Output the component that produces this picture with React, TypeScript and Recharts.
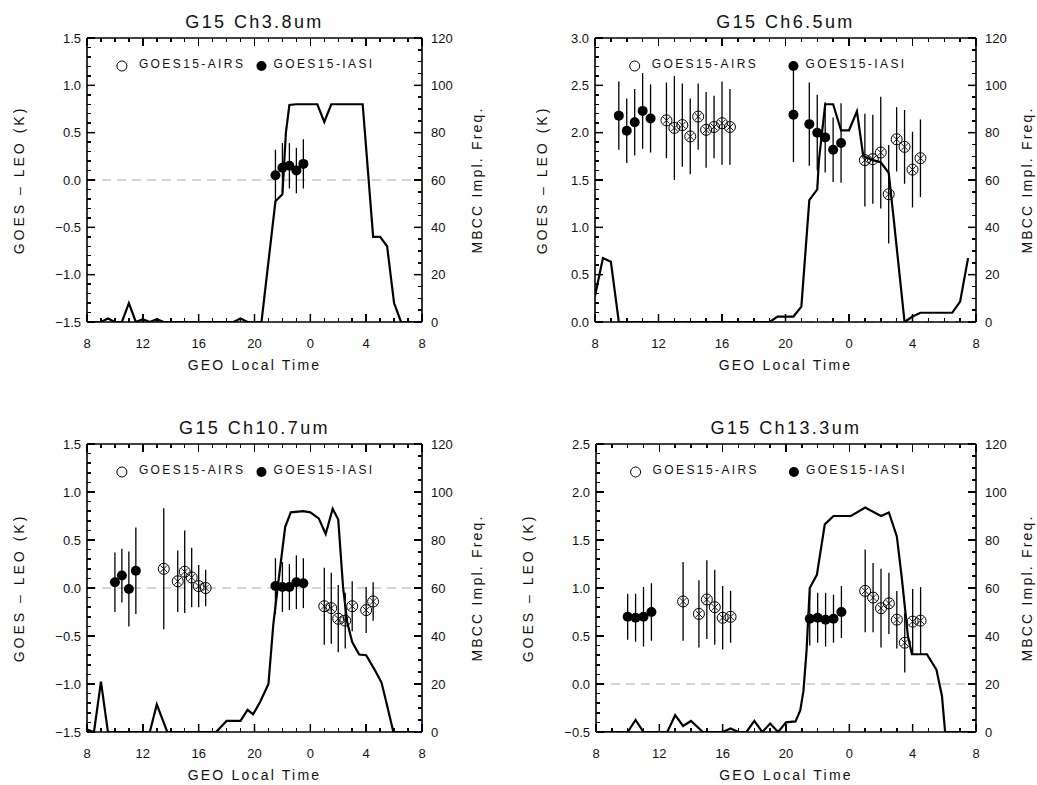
import React from 'react';
import { ComposedChart, Line, Scatter, ErrorBar, XAxis, YAxis, ReferenceLine } from 'recharts';

// x axis: GEO local time, 8 .. 32 (shown modulo 24)
const hourTicks = [8, 12, 16, 20, 24, 28, 32];
const hourLabels = ['8', '12', '16', '20', '0', '4', '8'];
const freqTicks = [0, 20, 40, 60, 80, 100, 120];

// ---- G15 Ch3.8um ----
const ch38FreqHour = [8, 9, 9.5, 10, 10.5, 11, 11.5, 12, 12.5, 13, 13.5, 18.5, 19, 19.5, 20.5, 21.5, 22, 22.25, 22.5, 23, 24.5, 25, 25.5, 27.75, 28.5, 29, 29.5, 30, 30.5, 31.5];
const ch38Freq = [0, 0, 1.5, 0, 0, 8, 0, 1.2, 0, 1.2, 0, 0, 1.5, 0, 0, 51, 54, 80, 91.7, 92, 92, 84.5, 92, 92, 36, 36, 32, 8, 0, 0];
const ch38IasiHour = [21.5, 22, 22.5, 23, 23.5];
const ch38IasiDiff = [0.05, 0.13, 0.15, 0.1, 0.17];
const ch38IasiErr = [0.27, 0.26, 0.24, 0.24, 0.26];

// ---- G15 Ch6.5um ----
const ch65FreqHour = [8, 8.5, 9, 9.5, 19, 19.5, 20.5, 21, 21.5, 22, 22.1, 22.5, 23, 23.5, 24, 24.5, 24.9, 25.5, 26, 26.5, 26.8, 27.5, 28, 28.5, 30.5, 31, 31.5];
const ch65Freq = [11, 27, 25.5, 0, 0, 2.3, 2.3, 6.5, 51.5, 56, 68, 92, 92, 81, 81, 89, 70, 68.4, 67.5, 63, 44.5, 0, 2.3, 3.9, 3.9, 8.6, 27];
const ch65IasiHour = [9.5, 10, 10.5, 11, 11.5, 20.5, 21.5, 22, 22.5, 23, 23.5];
const ch65IasiDiff = [2.18, 2.02, 2.11, 2.23, 2.15, 2.19, 2.09, 2.0, 1.95, 1.82, 1.89];
const ch65IasiErr = [0.36, 0.34, 0.35, 0.4, 0.36, 0.5, 0.44, 0.4, 0.37, 0.34, 0.42];
const ch65AirsHour = [12.5, 13, 13.5, 14, 14.5, 15, 15.5, 16, 16.5, 25, 25.5, 26, 26.5, 27, 27.5, 28, 28.5];
const ch65AirsDiff = [2.13, 2.05, 2.08, 1.96, 2.17, 2.03, 2.06, 2.1, 2.06, 1.71, 1.72, 1.79, 1.35, 1.93, 1.85, 1.61, 1.73];
const ch65AirsErr = [0.4, 0.55, 0.44, 0.4, 0.35, 0.4, 0.33, 0.44, 0.4, 0.49, 0.47, 0.59, 0.52, 0.34, 0.39, 0.4, 0.41];

// ---- G15 Ch10.7um ----
const ch107FreqHour = [8, 8.5, 9, 9.5, 12.5, 13, 13.75, 17.25, 18, 19, 19.5, 19.9, 20.4, 21, 21.35, 21.7, 22.2, 22.6, 23.5, 24, 24.6, 25.1, 25.6, 26, 26.35, 26.65, 27, 27.5, 28, 28.6, 29.1, 29.5, 29.95, 31.5];
const ch107Freq = [1, 0, 21, 0, 0, 11.5, 0, 0, 4.6, 4.6, 9.2, 7.4, 12.5, 20, 45, 62, 85.5, 91.5, 92, 91.5, 89, 82.5, 93, 88.5, 60, 45.5, 37.5, 32.3, 32, 26, 20.6, 11, 0, 0];
const ch107IasiHour = [10, 10.5, 11, 11.5, 21.5, 22, 22.5, 23, 23.5];
const ch107IasiDiff = [0.06, 0.13, -0.01, 0.18, 0.02, 0.01, 0.01, 0.06, 0.05];
const ch107IasiErr = [0.31, 0.28, 0.39, 0.45, 0.29, 0.26, 0.24, 0.28, 0.26];
const ch107AirsHour = [13.5, 14.5, 15, 15.5, 16, 16.5, 25, 25.5, 26, 26.5, 27, 28, 28.5];
const ch107AirsDiff = [0.2, 0.07, 0.17, 0.11, 0.02, 0.0, -0.19, -0.21, -0.32, -0.34, -0.19, -0.23, -0.14];
const ch107AirsErr = [0.63, 0.32, 0.43, 0.31, 0.22, 0.19, 0.4, 0.37, 0.35, 0.29, 0.26, 0.24, 0.2];

// ---- G15 Ch13.3um ----
const ch133FreqHour = [8, 10, 10.5, 11, 12.5, 13, 13.5, 14, 14.75, 16, 16.5, 17, 17.5, 18, 18.5, 19, 19.5, 20, 20.6, 20.9, 21.1, 21.3, 21.5, 21.95, 22.45, 23, 24.1, 25, 26, 26.5, 27, 27.3, 27.7, 27.95, 28.9, 29.5, 29.85, 30.05, 31.5];
const ch133Freq = [0, 0, 5, 0, 0, 7, 2.5, 4.6, 0, 0, 1.5, 0, 0, 4.6, 0, 3.5, 0, 4, 4.4, 9, 17, 34, 60, 65.5, 86.5, 90, 90, 93.5, 90, 91.5, 81.5, 65, 40, 32.4, 32.4, 26, 15, 0, 0];
const ch133IasiHour = [10, 10.5, 11, 11.5, 21.5, 22, 22.5, 23, 23.5];
const ch133IasiDiff = [0.7, 0.69, 0.7, 0.75, 0.68, 0.69, 0.67, 0.68, 0.75];
const ch133IasiErr = [0.24, 0.25, 0.31, 0.3, 0.28, 0.26, 0.28, 0.25, 0.27];
const ch133AirsHour = [13.5, 14.5, 15, 15.5, 16, 16.5, 25, 25.5, 26, 26.5, 27, 27.5, 28, 28.5];
const ch133AirsDiff = [0.86, 0.73, 0.88, 0.8, 0.69, 0.7, 0.97, 0.9, 0.79, 0.84, 0.67, 0.43, 0.65, 0.66];
const ch133AirsErr = [0.41, 0.35, 0.41, 0.39, 0.33, 0.27, 0.43, 0.36, 0.41, 0.32, 0.3, 0.31, 0.34, 0.35];

const ticks38 = [-1.5, -1, -0.5, 0, 0.5, 1, 1.5];
const ticks65 = [0, 0.5, 1, 1.5, 2, 2.5, 3];
const ticks133 = [-0.5, 0, 0.5, 1, 1.5, 2, 2.5];

const FONT = '"Liberation Sans", Arial, sans-serif';
const INK = '#111';

type Row = { h: number; d: number; e: number };

const toRows = (h: number[], d: number[], e: number[]): Row[] => h.map((x, i) => ({ h: x, d: d[i], e: e[i] }));
const toFreq = (h: number[], f: number[]) => h.map((x, i) => ({ h: x, f: f[i] }));
const steps = (a: number, b: number, s: number) => {
  const out: number[] = [];
  for (let v = a; v <= b + 1e-9; v += s) out.push(Math.round(v * 100) / 100);
  return out;
};
const isIn = (arr: number[], v: number) => arr.some((m) => Math.abs(m - v) < 1e-6);
const fmt = (v: number) => (v < 0 ? '\u2212' : '') + Math.abs(v).toFixed(1);
const hourFmt = (v: number) => hourLabels[hourTicks.indexOf(v)] ?? '';

const AXW = 60;
const TOPH = 10;
const BOTH = 30;
const MAJ = 8;
const MIN = 4;
const tickStroke = { stroke: '#000', strokeWidth: 1.5 };
const boxLine = { stroke: '#000', strokeWidth: 1.6 };
const tickText = { fontSize: 13, fill: INK, fontFamily: FONT };

const FilledDot = (p: any) => <circle cx={p.cx} cy={p.cy} r={5} fill="#000" />;
const CrossDot = (p: any) => {
  const { cx, cy } = p;
  const k = 3.3;
  return (
    <g>
      <circle cx={cx} cy={cy} r={5.5} fill="none" stroke="#000" strokeWidth={1} />
      <line x1={cx - k} y1={cy - k} x2={cx + k} y2={cy + k} stroke="#000" strokeWidth={0.9} />
      <line x1={cx - k} y1={cy + k} x2={cx + k} y2={cy - k} stroke="#000" strokeWidth={0.9} />
    </g>
  );
};

const Txt = ({ x, y, size, rot = 0, spacing = 0, children }: any) => (
  <div
    style={{
      position: 'absolute',
      left: x,
      top: y,
      transform: `translate(-50%, -50%) rotate(${rot}deg)`,
      fontSize: size,
      letterSpacing: spacing,
      whiteSpace: 'nowrap',
      lineHeight: 1,
      color: INK,
    }}
  >
    {children}
  </div>
);

type PanelProps = {
  left: number;
  top: number;
  width: number;
  height: number;
  margin: { top: number; right: number; bottom: number; left: number };
  rightLabelGap: number;
  title: string;
  yDomain: [number, number];
  yMajor: number[];
  freq: { h: number; f: number }[];
  airs: Row[];
  iasi: Row[];
};

const Panel = ({ left, top, width, height, margin, rightLabelGap, title, yDomain, yMajor, freq, airs, iasi }: PanelProps) => {
  const pl = margin.left + AXW;
  const pr = width - margin.right - AXW;
  const pt = margin.top + TOPH;
  const pb = height - margin.bottom - BOTH;
  const pw = pr - pl;
  const ph = pb - pt;
  const cx = (pl + pr) / 2;
  const hx = (h: number) => pl + ((h - 8) / 24) * pw;
  const ly = (v: number) => pt + ((yDomain[1] - v) / (yDomain[1] - yDomain[0])) * ph;
  const ry = (v: number) => pt + ((120 - v) / 120) * ph;
  const legY = pt + 28;
  const labelX = pl - (yDomain[0] < 0 ? 68 : 53);
  const hourMinor = steps(8, 32, 1);
  const yMinor = steps(yDomain[0], yDomain[1], 0.1);
  const freqMinor = steps(0, 120, 5);

  return (
    <div style={{ position: 'absolute', left, top, width, height }}>
      <ComposedChart width={width} height={height} margin={margin}>
        <XAxis xAxisId="b" dataKey="h" type="number" domain={[8, 32]} allowDataOverflow ticks={hourTicks} interval={0}
          tick={tickText} tickFormatter={hourFmt} tickLine={tickStroke} tickSize={-MAJ} tickMargin={25}
          height={BOTH} axisLine={boxLine} />
        <XAxis xAxisId="t" dataKey="h" orientation="top" type="number" domain={[8, 32]} allowDataOverflow ticks={hourTicks} interval={0}
          tick={false} tickLine={false} height={TOPH} axisLine={boxLine} />
        <YAxis yAxisId="l" dataKey="d" type="number" domain={yDomain} allowDataOverflow ticks={yMajor} interval={0}
          tick={tickText} tickFormatter={fmt} tickLine={tickStroke} tickSize={-MAJ} tickMargin={14}
          width={AXW} axisLine={boxLine} />
        <YAxis yAxisId="r" orientation="right" type="number" domain={[0, 120]} allowDataOverflow ticks={freqTicks} interval={0}
          tick={tickText} tickLine={tickStroke} tickSize={-MAJ} tickMargin={17}
          width={AXW} axisLine={boxLine} />

        <ReferenceLine xAxisId="b" yAxisId="l" y={0} stroke="#aaa" strokeWidth={1.2} strokeDasharray="9 6" />
        <Line
          xAxisId="b"
          yAxisId="r"
          data={freq}
          dataKey="f"
          type="linear"
          stroke="#000"
          strokeWidth={2.2}
          dot={false}
          activeDot={false}
          isAnimationActive={false}
        />
        {airs.length > 0 && (
          <Scatter xAxisId="b" yAxisId="l" data={airs} shape={CrossDot} isAnimationActive={false}>
            <ErrorBar dataKey="e" direction="y" width={0} stroke="#000" strokeWidth={1.3} isAnimationActive={false} />
          </Scatter>
        )}
        <Scatter xAxisId="b" yAxisId="l" data={iasi} shape={FilledDot} isAnimationActive={false}>
          <ErrorBar dataKey="e" direction="y" width={0} stroke="#000" strokeWidth={1.3} isAnimationActive={false} />
        </Scatter>
      </ComposedChart>

      {/* inward tick marks on all four sides of the frame, plus legend markers */}
      <svg style={{ position: 'absolute', left: 0, top: 0, pointerEvents: 'none' }} width={width} height={height}>
        <g stroke="#000" strokeWidth={1.5} shapeRendering="crispEdges">
          {hourMinor.map((h) => {
            const len = hourTicks.includes(h) ? MAJ : MIN;
            return (
              <g key={'h' + h}>
                <line x1={hx(h)} x2={hx(h)} y1={pb} y2={pb - len} />
                <line x1={hx(h)} x2={hx(h)} y1={pt} y2={pt + len} />
              </g>
            );
          })}
          {yMinor.map((v) => (
            <line key={'l' + v} x1={pl} x2={pl + (isIn(yMajor, v) ? MAJ : MIN)} y1={ly(v)} y2={ly(v)} />
          ))}
          {freqMinor.map((v) => (
            <line key={'r' + v} x1={pr} x2={pr - (freqTicks.includes(v) ? MAJ : MIN)} y1={ry(v)} y2={ry(v)} />
          ))}
        </g>
        <circle cx={hx(10.5)} cy={legY} r={5} fill="none" stroke="#000" strokeWidth={1} />
        <circle cx={hx(20.5)} cy={legY} r={5} fill="#000" />
      </svg>
      <div style={{ position: 'absolute', left: hx(10.5) + 17, top: legY - 9, fontSize: 12, letterSpacing: 2.4, color: INK, whiteSpace: 'nowrap' }}>
        GOES15-AIRS
      </div>
      <div style={{ position: 'absolute', left: hx(20.5) + 12, top: legY - 9, fontSize: 12, letterSpacing: 2.4, color: INK, whiteSpace: 'nowrap' }}>
        GOES15-IASI
      </div>

      <Txt x={cx} y={pt - 16} size={18} spacing={2.4}>{title}</Txt>
      <Txt x={labelX} y={(pt + pb) / 2} size={14} rot={-90} spacing={3}>GOES &#8211; LEO (K)</Txt>
      <Txt x={pr + rightLabelGap} y={(pt + pb) / 2} size={14} rot={-90} spacing={2.2}>MBCC Impl. Freq.</Txt>
      <Txt x={cx} y={pb + 43} size={14} spacing={2.2}>GEO Local Time</Txt>
    </div>
  );
};

export default function App() {
  return (
    <div style={{ position: 'absolute', left: 0, top: 0, width: 1037, height: 785, background: '#fff', fontFamily: FONT }}>
      <Panel
        left={0}
        top={0}
        width={518}
        height={400}
        margin={{ top: 28, right: 36, bottom: 48, left: 27 }}
        rightLabelGap={55}
        title="G15 Ch3.8um"
        yDomain={[-1.5, 1.5]}
        yMajor={ticks38}
        freq={toFreq(ch38FreqHour, ch38Freq)}
        airs={[]}
        iasi={toRows(ch38IasiHour, ch38IasiDiff, ch38IasiErr)}
      />
      <Panel
        left={518}
        top={0}
        width={519}
        height={400}
        margin={{ top: 28, right: 1, bottom: 48, left: 17 }}
        rightLabelGap={51}
        title="G15 Ch6.5um"
        yDomain={[0, 3]}
        yMajor={ticks65}
        freq={toFreq(ch65FreqHour, ch65Freq)}
        airs={toRows(ch65AirsHour, ch65AirsDiff, ch65AirsErr)}
        iasi={toRows(ch65IasiHour, ch65IasiDiff, ch65IasiErr)}
      />
      <Panel
        left={0}
        top={400}
        width={518}
        height={385}
        margin={{ top: 34, right: 36, bottom: 23, left: 27 }}
        rightLabelGap={55}
        title="G15 Ch10.7um"
        yDomain={[-1.5, 1.5]}
        yMajor={ticks38}
        freq={toFreq(ch107FreqHour, ch107Freq)}
        airs={toRows(ch107AirsHour, ch107AirsDiff, ch107AirsErr)}
        iasi={toRows(ch107IasiHour, ch107IasiDiff, ch107IasiErr)}
      />
      <Panel
        left={518}
        top={400}
        width={519}
        height={385}
        margin={{ top: 34, right: 1, bottom: 23, left: 18 }}
        rightLabelGap={51}
        title="G15 Ch13.3um"
        yDomain={[-0.5, 2.5]}
        yMajor={ticks133}
        freq={toFreq(ch133FreqHour, ch133Freq)}
        airs={toRows(ch133AirsHour, ch133AirsDiff, ch133AirsErr)}
        iasi={toRows(ch133IasiHour, ch133IasiDiff, ch133IasiErr)}
      />
    </div>
  );
}
